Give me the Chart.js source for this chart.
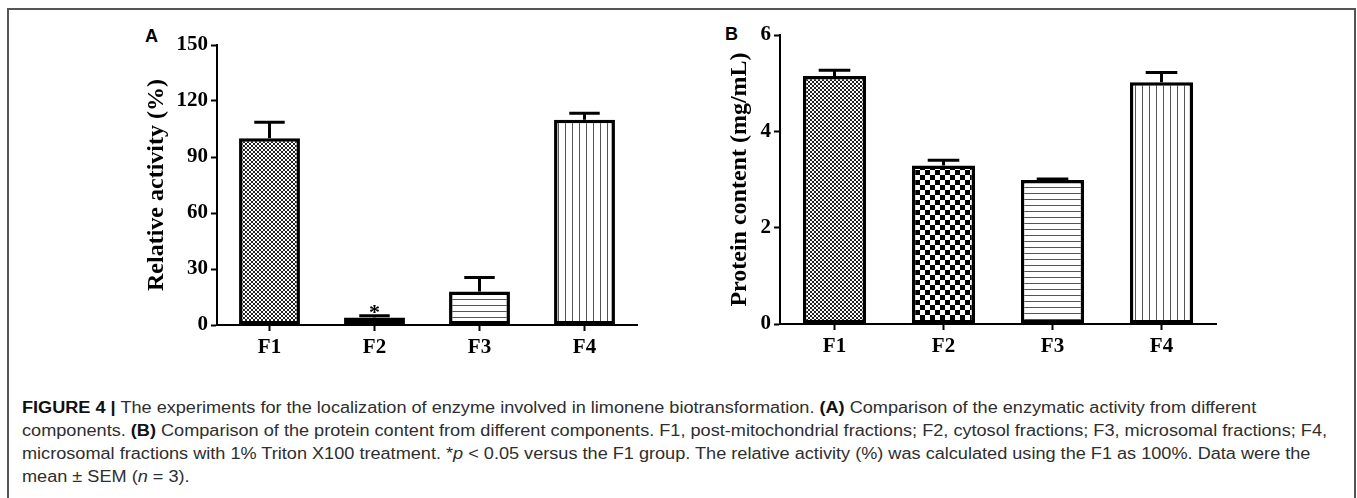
<!DOCTYPE html>
<html>
<head>
<meta charset="utf-8">
<script src="https://cdn.jsdelivr.net/npm/chart.js@4.4.1/dist/chart.umd.min.js"></script>
<style>
html, body { margin: 0; padding: 0; background: #fff; }
body { width: 1357px; height: 498px; overflow: hidden; position: relative; }
#frame { position: absolute; left: 7px; top: 8px; width: 1345px; height: 600px; border: 2px solid #555; }
.panel { position: absolute; }
.tag { position: absolute; font: bold 18px "Liberation Sans", Arial, sans-serif; line-height: 1; color: #000; }
#caption { position: absolute; left: 22px; top: 396px; color: #2e2e2e;
  font-family: "Liberation Sans Narrow", "Liberation Sans", Arial, sans-serif; font-size: 16px; }
.ln { height: 23px; line-height: 23px; white-space: nowrap; }
.ln span { display: inline-block; transform-origin: 0 50%; }
.ln b { color: #111; }
</style>
</head>
<body>
<div id="frame"></div>
<div class="tag" style="left:145px; top:27px;">A</div>
<div class="tag" style="left:725px; top:25px;">B</div>
<canvas id="chartA" class="panel" width="525" height="335" style="left:117px; top:35px;"></canvas>
<canvas id="chartB" class="panel" width="541" height="344" style="left:680px; top:25px;"></canvas>
<div id="caption">
  <div class="ln"><span><b>FIGURE 4 |</b> The experiments for the localization of enzyme involved in limonene biotransformation. <b>(A)</b> Comparison of the enzymatic activity from different</span></div>
  <div class="ln"><span>components. <b>(B)</b> Comparison of the protein content from different components. F1, post-mitochondrial fractions; F2, cytosol fractions; F3, microsomal fractions; F4,</span></div>
  <div class="ln"><span>microsomal fractions with 1% Triton X100 treatment. *<i>p</i> &lt; 0.05 versus the F1 group. The relative activity (%) was calculated using the F1 as 100%. Data were the</span></div>
  <div class="ln"><span>mean ± SEM (<i>n</i> = 3).</span></div>
</div>
<script>
// données
const categories = ['F1', 'F2', 'F3', 'F4'];
const activity = [100, 4, 18, 110];
const activityErr = [8.6, 1, 7.4, 3.4];
const activityMarks = ['', '*', '', ''];
const protein = [5.15, 3.29, 2.99, 5.02];
const proteinErr = [0.12, 0.11, 0.02, 0.2];
const ticksA = [0, 30, 60, 90, 120, 150];
const ticksB = [0, 2, 4, 6];

// légende : la 2e ligne va jusqu'à x=1327, même compression pour toutes
const spans = document.querySelectorAll('.ln span');
const squeeze = (1327 - 22) / spans[1].getBoundingClientRect().width;
spans.forEach(s => { s.style.transform = 'scaleX(' + squeeze + ')'; });

// motifs des barres
function makePattern(kind) {
  const c = document.createElement('canvas');
  const g = c.getContext('2d');
  if (kind === 'fine') {
    c.width = 4; c.height = 4;
    g.fillStyle = '#fff'; g.fillRect(0, 0, 4, 4);
    g.fillStyle = '#222'; g.fillRect(0, 0, 2, 2); g.fillRect(2, 2, 2, 2);
  } else if (kind === 'check') {
    c.width = 10; c.height = 10;
    g.fillStyle = '#fff'; g.fillRect(0, 0, 10, 10);
    g.fillStyle = '#000'; g.fillRect(0, 0, 5, 5); g.fillRect(5, 5, 5, 5);
  } else if (kind === 'hlines') {
    c.width = 6; c.height = 6;
    g.fillStyle = '#fff'; g.fillRect(0, 0, 6, 6);
    g.fillStyle = '#555'; g.fillRect(0, 0, 6, 1);
  } else {
    c.width = 7; c.height = 7;
    g.fillStyle = '#fff'; g.fillRect(0, 0, 7, 7);
    g.fillStyle = '#555'; g.fillRect(0, 0, 1, 7);
  }
  return g.createPattern(c, 'repeat');
}
const fills = [makePattern('fine'), makePattern('check'), makePattern('hlines'), makePattern('vlines')];

// barres d'erreur (SEM, vers le haut) + astérisque
function errorBars(errs, marks) {
  return {
    id: 'errorBars',
    afterDatasetsDraw(chart) {
      const ctx = chart.ctx;
      const y = chart.scales.y;
      const vals = chart.data.datasets[0].data;
      ctx.save();
      ctx.strokeStyle = '#000';
      ctx.fillStyle = '#000';
      ctx.lineWidth = 3;
      chart.getDatasetMeta(0).data.forEach((bar, i) => {
        const top = y.getPixelForValue(vals[i] + errs[i]);
        const half = bar.width / 4;
        ctx.beginPath();
        ctx.moveTo(bar.x, bar.y);
        ctx.lineTo(bar.x, top);
        ctx.moveTo(bar.x - half, top);
        ctx.lineTo(bar.x + half, top);
        ctx.stroke();
        if (marks && marks[i]) {
          ctx.font = 'bold 22px "Liberation Serif"';
          ctx.textAlign = 'center';
          ctx.textBaseline = 'alphabetic';
          ctx.fillText(marks[i], bar.x, top + 3);
        }
      });
      ctx.restore();
    }
  };
}

const serif = '"Liberation Serif", "Times New Roman", serif';

function makeConfig(values, errs, marks, ticks, title, titlePad) {
  return {
    type: 'bar',
    data: {
      labels: categories,
      datasets: [{
        data: values,
        backgroundColor: fills,
        borderColor: '#000',
        borderWidth: 3.5,
        borderSkipped: false,
        barPercentage: 0.58,
        categoryPercentage: 1
      }]
    },
    options: {
      responsive: false,
      animation: false,
      layout: { padding: { top: 10, right: 5, bottom: 0, left: 0 } },
      plugins: { legend: { display: false }, tooltip: { enabled: false } },
      scales: {
        x: {
          offset: true,
          grid: { display: true, offset: false, drawOnChartArea: false, drawTicks: true, tickLength: 6, tickWidth: 2, tickColor: '#000' },
          border: { display: true, color: '#000', width: 2 },
          ticks: { color: '#000', padding: 4, font: { family: serif, size: 21, weight: 'bold' } },
          afterFit(s) { s.height = 45; s.paddingLeft = 0; s.paddingRight = 0; }
        },
        y: {
          min: ticks[0],
          max: ticks[ticks.length - 1],
          grid: { display: true, drawOnChartArea: false, drawTicks: true, tickLength: 6, tickWidth: 2, tickColor: '#000' },
          border: { display: true, color: '#000', width: 2 },
          ticks: { stepSize: ticks[1] - ticks[0], color: '#000', padding: 3, font: { family: serif, size: 21, weight: 'bold' } },
          title: { display: true, text: title, color: '#000', padding: { top: titlePad, bottom: 0 }, font: { family: serif, size: 24, weight: 'bold' } },
          afterFit(s) { s.width = 100; s.paddingTop = 0; s.paddingBottom = 0; }
        }
      }
    },
    plugins: [errorBars(errs, marks)]
  };
}

new Chart(document.getElementById('chartA'), makeConfig(activity, activityErr, activityMarks, ticksA, 'Relative activity (%)', 25));
new Chart(document.getElementById('chartB'), makeConfig(protein, proteinErr, null, ticksB, 'Protein content (mg/mL)', 45));
</script>
</body>
</html>
